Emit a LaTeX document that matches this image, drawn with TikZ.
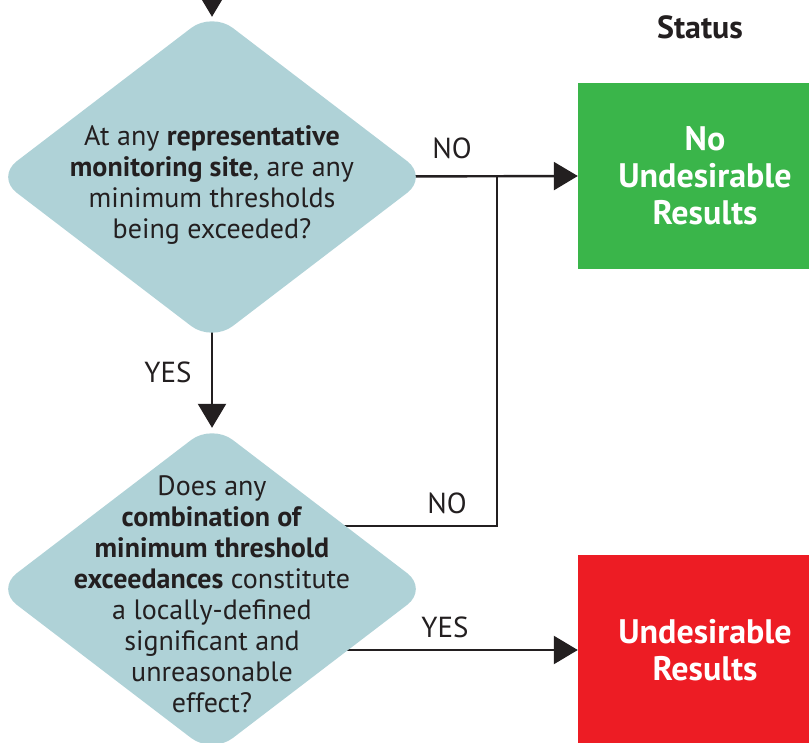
\documentclass[tikz,border=0pt]{standalone}
\usepackage{fontspec}
\setmainfont{PT Sans}
\usetikzlibrary{arrows.meta,positioning,shapes.geometric,backgrounds}
\definecolor{ink}{HTML}{231F20}
\definecolor{mist}{HTML}{AFD2D7}
\definecolor{okgreen}{HTML}{3AB54A}
\definecolor{badred}{HTML}{ED1C24}

\begin{document}
\begin{tikzpicture}[x=1pt, y=-1pt, every node/.style={text=ink},
  decision/.style={diamond, fill=mist, minimum width=432pt, minimum height=330pt, rounded corners=26pt, inner sep=0pt},
  question/.style={align=center, font=\fontsize{28}{31}\selectfont},
  status/.style={minimum width=254pt, text=white, align=center, font=\bfseries\fontsize{34}{37}\selectfont},
  answer/.style={font=\fontsize{29}{30}\selectfont},
  flow/.style={line width=2.4pt, draw=ink, -{Triangle[length=24pt,width=28pt]}},
  wire/.style={line width=2.4pt, draw=ink}]
\useasboundingbox (0,0) rectangle (809,743);
\node[decision] (q1) at (212,177) {};
\node[decision] (q2) at (212,589) {};
\node[question] (q1text) at ([yshift=-8pt]q1.center) {At any \textbf{representative}\\\textbf{monitoring site}, are any\\minimum thresholds\\being exceeded?};
\node[question] (q2text) at ([yshift=-5pt]q2.center) {Does any\\\textbf{combination of}\\\textbf{minimum threshold}\\\textbf{exceedances} constitute\\a locally-defined\\significant and\\unreasonable\\effect?};
\node[status, fill=okgreen, minimum height=186pt] (good) at (705,176) {No\\Undesirable\\Results};
\node[status, fill=badred, minimum height=190pt] (bad) at (705,650) {Undesirable\\Results};
\node[font=\bfseries\fontsize{32}{34}\selectfont] (head) at (700,27) {Status};
\node[answer] (no1) at (452,148) {NO};
\node[answer] (no2) at (447,503) {NO};
\node[answer] (yes1) at (168,372) {YES};
\node[answer] (yes2) at (445,627) {YES};
\coordinate (top) at (212,-20);
\coordinate (merge) at (497,177);
\coordinate (back) at (497,526);
\draw[flow] (top) -- ([yshift=-5pt]q1.north);
\begin{scope}[on background layer]
\draw[flow] (q1.center) -- (good.west);
\draw[flow] (q1.center) -- ([yshift=-4pt]q2.north);
\draw[wire] (back -| q2.center) -- (back) -- (merge);
\draw[flow] (q2.center |- bad.west) -- (bad.west);
\end{scope}
\end{tikzpicture}
\end{document}
